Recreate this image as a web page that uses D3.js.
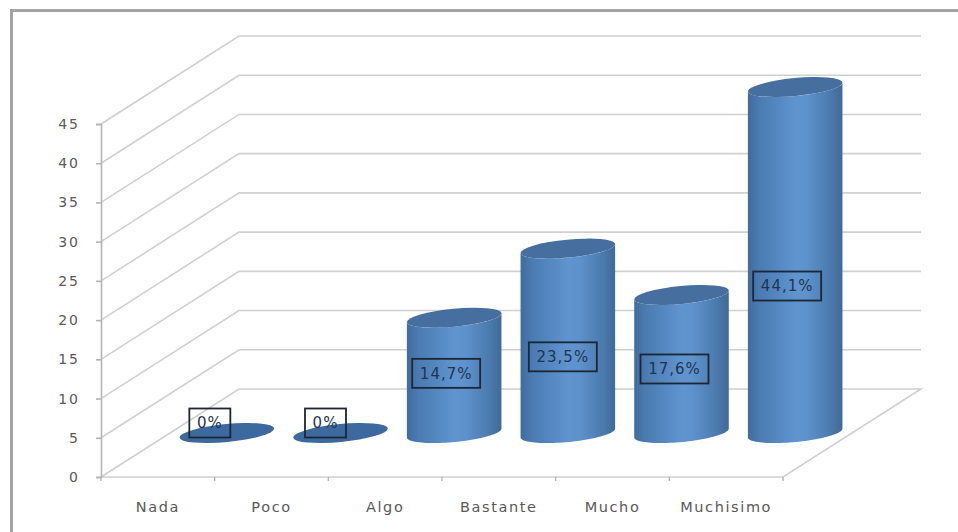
<!DOCTYPE html>
<html lang="es">
<head>
<meta charset="utf-8">
<title>Cilindros</title>
<script src="https://cdn.jsdelivr.net/npm/d3@7"></script>
<style>
  html, body { margin: 0; padding: 0; background: #fff; }
  svg { display: block; }
  text { font-family: "DejaVu Sans", sans-serif; }
</style>
</head>
<body>
<svg id="chart" width="958" height="532"></svg>
<script>
// Survey answers and their share of responses
const categories = ["Nada", "Poco", "Algo", "Bastante", "Mucho", "Muchisimo"];
const percentages = [0, 0, 14.7, 23.5, 17.6, 44.1];
const valueLabels = ["0%", "0%", "14,7%", "23,5%", "17,6%", "44,1%"];
const yTicks = [0, 5, 10, 15, 20, 25, 30, 35, 40, 45];

// Label box placement relative to the cylinder's axis and mid-height
const labelShiftX = [-17, -15, -8, -5, -7, -8];
const labelShiftY = [-10, -10, -2, 16, 5, 26];

// Plot frame and the oblique offset of the back wall
const plotLeft = 101, plotRight = 783, floorY = 477, ceilingY = 124;
const depthX = 138, depthY = 88;
const wallRight = plotRight + depthX;

const svg = d3.select("#chart");
const defs = svg.append("defs");

const x = d3.scaleBand().domain(categories).range([plotLeft, plotRight]);
const y = d3.scaleLinear().domain([0, 45]).range([floorY, ceilingY]);

// Outer frame: only the top and left edges show
svg.append("path")
  .attr("d", "M11.5,532V10.5H958")
  .attr("fill", "none")
  .attr("stroke", "#a3a3a3")
  .attr("stroke-width", 3);

// Side wall and back wall gridlines
svg.append("g").selectAll("path").data(yTicks.filter(t => t > 0)).join("path")
  .attr("d", t => `M${plotLeft},${y(t)}L${plotLeft + depthX},${y(t) - depthY}H${wallRight}`)
  .attr("fill", "none")
  .attr("stroke", "#d0d0d0")
  .attr("stroke-width", 1.6);

// Floor outline
svg.append("path")
  .attr("d", `M${plotLeft},${floorY}L${plotLeft + depthX},${floorY - depthY}H${wallRight}L${plotRight},${floorY}Z`)
  .attr("fill", "none")
  .attr("stroke", "#d0d0d0")
  .attr("stroke-width", 1.6);

// Value axis
const yAxis = d3.axisLeft(y).tickValues(yTicks).tickSize(5).tickPadding(16);
const yG = svg.append("g").attr("transform", `translate(${plotLeft},0)`).call(yAxis);
yG.selectAll(".domain, line").attr("stroke", "#b4b4b4").attr("stroke-width", 1.6);
yG.selectAll("text")
  .attr("font-size", 14)
  .attr("letter-spacing", 2)
  .attr("fill", "#595959");

// Category axis: ticks fall between the bands
const xBoundaries = d3.range(categories.length + 1).map(i => plotLeft + i * x.bandwidth());
svg.append("g").selectAll("line").data(xBoundaries).join("line")
  .attr("x1", d => d).attr("x2", d => d)
  .attr("y1", floorY).attr("y2", floorY + 4)
  .attr("stroke", "#b4b4b4").attr("stroke-width", 1.4);

svg.append("g").selectAll("text").data(categories).join("text")
  .attr("x", d => x(d) + x.bandwidth() / 2)
  .attr("y", floorY + 35)
  .attr("text-anchor", "middle")
  .attr("font-size", 14.5)
  .attr("letter-spacing", 1.6)
  .attr("fill", "#595959")
  .text(d => d);

// Cylinder shading
const bodyFill = defs.append("linearGradient").attr("id", "cylinderBody");
[[0, "#406c9e"], [0.12, "#4a7bb2"], [0.5, "#5f94cf"], [0.62, "#5e92cc"], [0.88, "#4a79ac"], [1, "#406a96"]]
  .forEach(([o, c]) => bodyFill.append("stop").attr("offset", o).attr("stop-color", c));

const rx = 47.5, ry = 9, tilt = -5.5;
const rad = tilt * Math.PI / 180;
const centerX = d => x(d) + x.bandwidth() / 2 + depthX / 2;
const baseY = floorY - depthY / 2;
const barHeight = v => y(0) - y(v);

// Point on the tilted ellipse around (cx, cy) at parameter t
const rimPoint = (cx, cy, t) => {
  const u = rx * Math.cos(t), w = ry * Math.sin(t);
  return [cx + u * Math.cos(rad) - w * Math.sin(rad), cy + u * Math.sin(rad) + w * Math.cos(rad)];
};
const rimAngles = d3.range(0, 49).map(i => i * Math.PI / 48);
const outline = d3.line();

const bars = svg.append("g").selectAll("g")
  .data(categories.map((c, i) => ({ c, i, v: percentages[i] })))
  .join("g");

// Body: front half of the base rim, then the front half of the top rim in reverse
bars.filter(d => d.v > 0).append("path")
  .attr("fill", "url(#cylinderBody)")
  .attr("d", d => {
    const cx = centerX(d.c);
    const lower = rimAngles.map(t => rimPoint(cx, baseY, t));
    const upper = rimAngles.map(t => rimPoint(cx, baseY - barHeight(d.v), t)).reverse();
    return outline(lower.concat(upper)) + "Z";
  });

// Top cap (a flat disc for zero-valued answers)
bars.append("ellipse")
  .attr("rx", rx).attr("ry", ry)
  .attr("fill", d => d.v > 0 ? "#466f9f" : "#3c6a9f")
  .attr("transform", d => `translate(${centerX(d.c)},${baseY - barHeight(d.v)}) rotate(${tilt})`);

// Boxed value labels
const labels = bars.append("g")
  .attr("transform", d => `translate(${centerX(d.c) + labelShiftX[d.i]},${baseY - barHeight(d.v) / 2 + labelShiftY[d.i]})`);

labels.append("rect")
  .attr("x", d => d.v > 0 ? -34 : -20.5)
  .attr("y", -14.5)
  .attr("width", d => d.v > 0 ? 68 : 41)
  .attr("height", 29)
  .attr("fill", "none")
  .attr("stroke", "#1c2733")
  .attr("stroke-width", 1.8);

labels.append("text")
  .attr("text-anchor", "middle")
  .attr("dy", "0.36em")
  .attr("font-size", 15)
  .attr("letter-spacing", 1)
  .attr("fill", "#1f3550")
  .text(d => valueLabels[d.i]);
</script>
</body>
</html>
